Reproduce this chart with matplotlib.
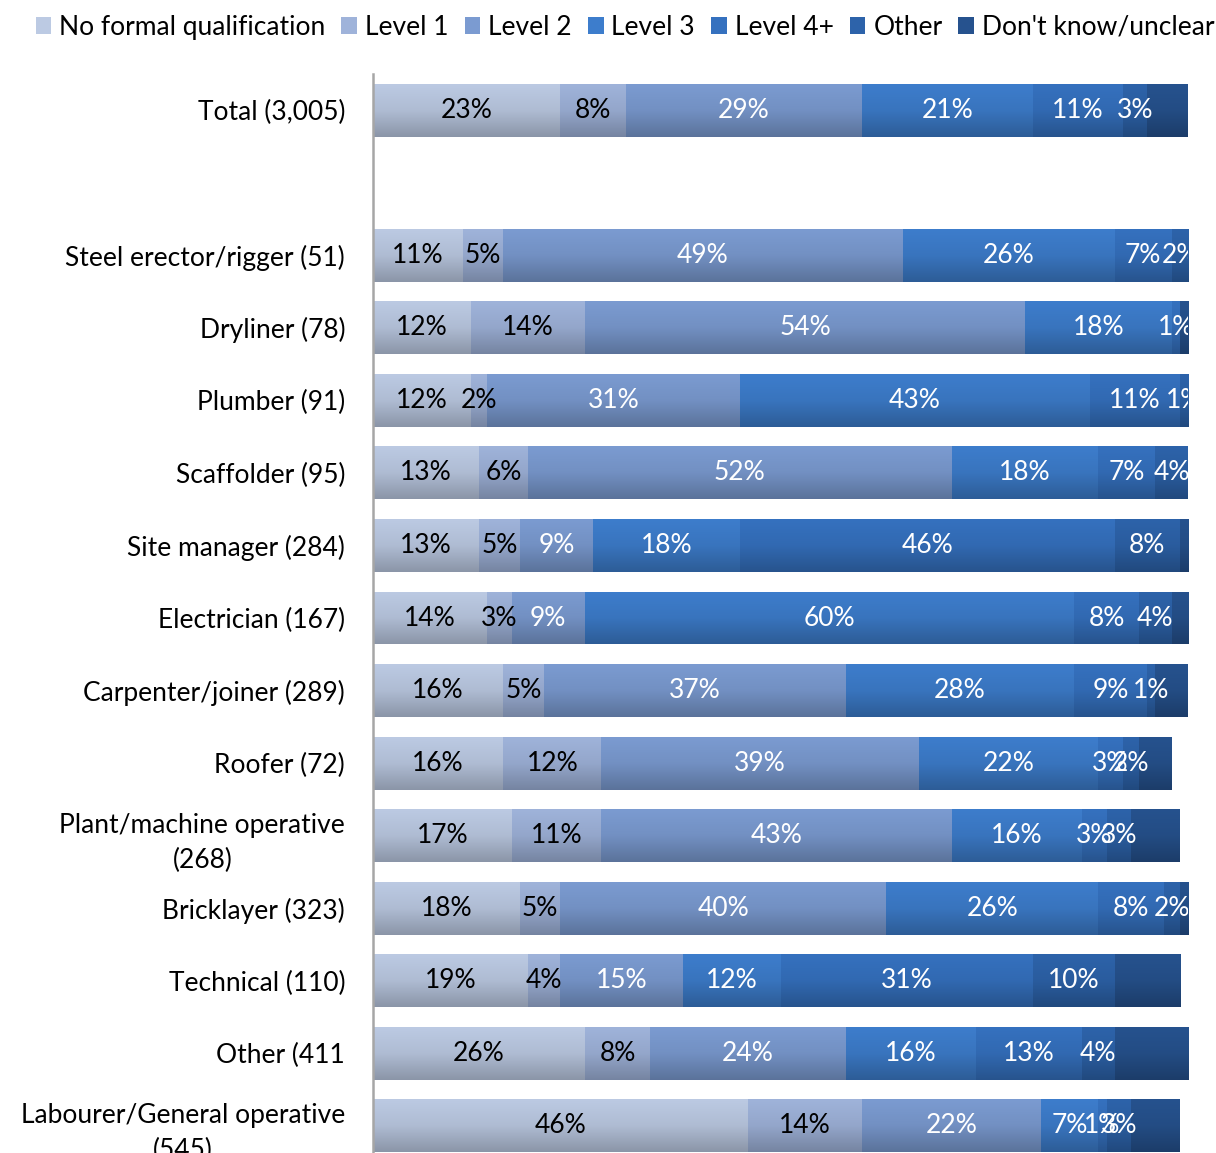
import numpy as np
import matplotlib.pyplot as plt
from matplotlib.colors import LinearSegmentedColormap, to_rgb

plt.rcParams['font.family'] = ['Lato', 'DejaVu Sans']

categories = ["Total (3,005)", "Steel erector/rigger (51)", "Dryliner (78)", "Plumber (91)",
              "Scaffolder (95)", "Site manager (284)", "Electrician (167)", "Carpenter/joiner (289)",
              "Roofer (72)", "Plant/machine operative\n(268)", "Bricklayer (323)", "Technical (110)",
              "Other (411", "Labourer/General operative\n(545)"]
series = ["No formal qualification", "Level 1", "Level 2", "Level 3", "Level 4+", "Other",
          "Don't know/unclear"]

no_formal = [23, 11, 12, 12, 13, 13, 14, 16, 16, 17, 18, 19, 26, 46]
level1 = [8, 5, 14, 2, 6, 5, 3, 5, 12, 11, 5, 4, 8, 14]
level2 = [29, 49, 54, 31, 52, 9, 9, 37, 39, 43, 40, 15, 24, 22]
level3 = [21, 26, 18, 43, 18, 18, 60, 28, 22, 16, 26, 12, 16, 7]
level4 = [11, 7, 1, 11, 7, 46, 8, 9, 3, 3, 8, 31, 13, 1]
other = [3, 2, 0, 1, 4, 8, 4, 1, 2, 3, 2, 10, 4, 3]
dont_know = [5, 0, 1, 0, 0, 1, 2, 4, 4, 6, 1, 8, 9, 6]

colors = ["#bccae3", "#9fb3da", "#7b9bd1", "#3d7dcc", "#3571bf", "#2d63aa", "#26528e"]
label_colors = ["black", "black", "white", "white", "white", "white", None]

data = [no_formal, level1, level2, level3, level4, other, dont_know]

# Total row, then an empty slot, then the trades
ypos = np.array([0] + list(range(2, len(categories) + 1)))

fs = 19
fig = plt.figure(figsize=(12.16, 11.53), dpi=100)
ax = fig.add_axes([373 / 1216, -9 / 1153, 815 / 1216, 1088 / 1153])

left = np.zeros(len(categories))
handles = []
for vals, col, lc, name in zip(data, colors, label_colors, series):
    vals = np.array(vals, dtype=float)
    bars = ax.barh(ypos, vals, left=left, height=0.73, color=col, label=name, linewidth=0)
    handles.append(bars)
    top = np.array(to_rgb(col))
    # light at the top of each bar, darker towards the bottom
    cmap = LinearSegmentedColormap.from_list("g", [top, top * 0.93, top * 0.74])
    grad = np.linspace(0, 1, 64).reshape(-1, 1)
    for b in bars:
        if b.get_width() <= 0:
            continue
        x0, y0 = b.get_x(), b.get_y()
        im = ax.imshow(grad, cmap=cmap, aspect="auto", origin="upper",
                       extent=[x0, x0 + b.get_width(), y0 + b.get_height(), y0],
                       interpolation="bilinear", zorder=2)
        im.set_clip_path(b)
    if lc is not None:
        for y, l, v in zip(ypos, left, vals):
            if v > 0:
                ax.text(l + v / 2, y, f"{int(v)}%", ha="center", va="center",
                        color=lc, fontsize=fs, zorder=3, clip_on=True)
    left += vals

ax.set_xlim(0, 100)
ax.set_ylim(14.5, -0.5)
ax.set_yticks(ypos)
ax.set_yticklabels(categories, fontsize=fs, linespacing=1.5, multialignment="center")
ax.tick_params(axis="y", length=0, pad=20)
ax.set_xticks([])
for s in ["top", "right", "bottom"]:
    ax.spines[s].set_visible(False)
ax.spines["left"].set_color("#a6a6a6")
ax.spines["left"].set_linewidth(1.8)
ax.spines["left"].set_zorder(5)

fig.legend(handles=handles, loc="upper center", bbox_to_anchor=(0.514, 1.008), ncol=7,
           frameon=False, fontsize=fs, handlelength=0.6, handleheight=0.6,
           handletextpad=0.3, columnspacing=0.6)

fig.savefig("out.png", dpi=100)
